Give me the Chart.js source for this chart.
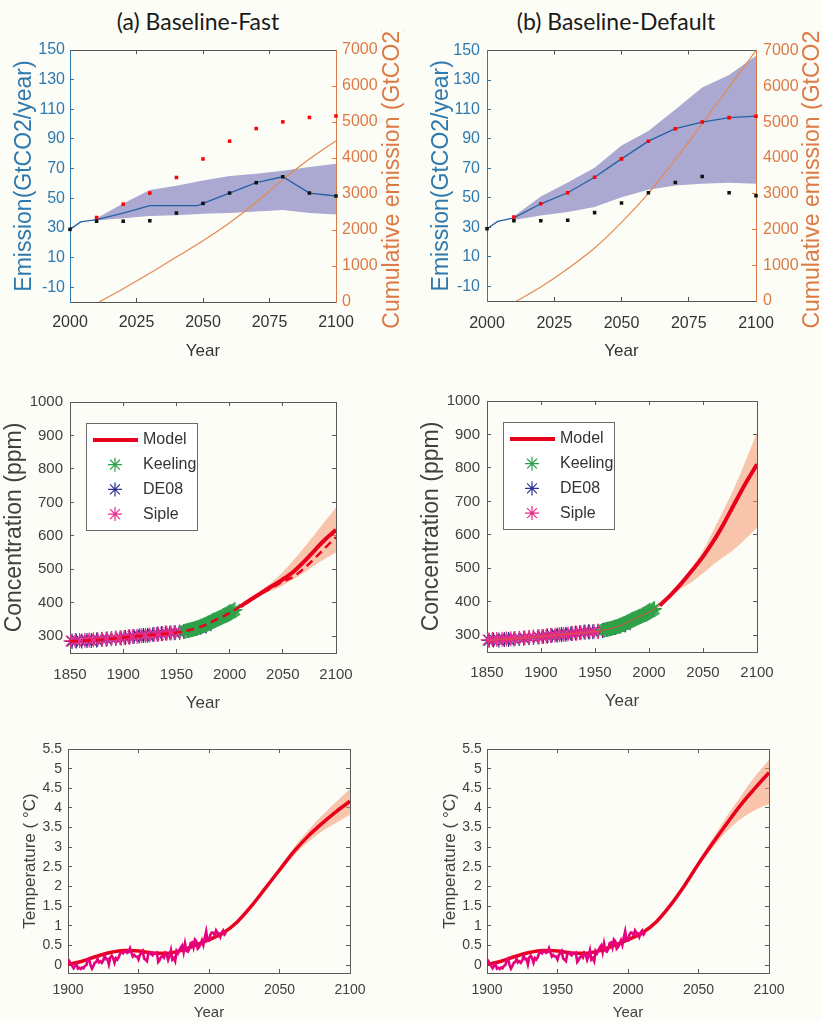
<!DOCTYPE html>
<html>
<head>
<meta charset="utf-8">
<script src="https://cdn.jsdelivr.net/npm/chart.js@4.4.1/dist/chart.umd.min.js"></script>
<style>
html, body { margin: 0; padding: 0; overflow: hidden; }
body { width: 822px; height: 1022px; position: relative; background: #fdfdf8; }
canvas { position: absolute; }
.ttl { position: absolute; top: 7px; font-family: Lato, 'Open Sans', sans-serif; font-size: 23px; color: #1a1a1a; text-align: center; white-space: nowrap; }
</style>
</head>
<body>
<div class="ttl" style="left:88px;width:220px;">(a) Baseline-Fast</div>
<div class="ttl" style="left:496px;width:240px;">(b) Baseline-Default</div>
<canvas id="emA" width="410" height="340" style="left:0;top:30px"></canvas>
<canvas id="emB" width="420" height="340" style="left:410px;top:30px"></canvas>
<canvas id="concA" width="410" height="340" style="left:0;top:380px"></canvas>
<canvas id="concB" width="420" height="340" style="left:410px;top:380px"></canvas>
<canvas id="tempA" width="410" height="300" style="left:0;top:730px"></canvas>
<canvas id="tempB" width="420" height="300" style="left:410px;top:730px"></canvas>
<script>
// emissions (GtCO2/year)
const emDotYears = [2000, 2010, 2020, 2030, 2040, 2050, 2060, 2070, 2080, 2090, 2100];
const emBlack = [29, 34.5, 34.5, 34.8, 40, 46.5, 53.5, 60.5, 64.5, 53.5, 51.5];
const emRedYears = [2010, 2020, 2030, 2040, 2050, 2060, 2070, 2080, 2090, 2100];
const emRed = [37, 46, 53.5, 64, 76.5, 88.5, 97, 101.5, 104.5, 105.5];
const fastLineYears = [2000, 2004, 2010, 2020, 2030, 2048, 2050, 2060, 2070, 2080, 2090, 2100];
const fastLine = [29, 34, 35.5, 40, 45, 45, 46.5, 53.5, 60.5, 64.5, 53.5, 51.5];
const defLineYears = [2000, 2004, 2010, 2020, 2030, 2040, 2050, 2060, 2070, 2080, 2090, 2100];
const defLine = [29, 34, 36.5, 46, 53.5, 64, 76.5, 88.5, 97, 101.5, 104.5, 105.5];
const emBandYears = [2010, 2020, 2030, 2040, 2050, 2060, 2070, 2080, 2090, 2100];
const fastUp = [36.5, 46.5, 55.5, 58.5, 62, 65, 66.5, 68.5, 71, 73.3];
const fastLo = [35, 36.5, 38, 38.5, 39.5, 40, 41, 42, 40, 39];
const defUp = [37.5, 51, 60.5, 70.5, 85.5, 95.5, 110, 125, 133.5, 146.5];
const defLo = [35, 38, 40.5, 43.8, 50.5, 55.5, 58.4, 59.6, 60.3, 59.6];
const cumYears = [2011, 2020, 2030, 2040, 2050, 2060, 2070, 2080, 2090, 2100];
const cumFast = [0, 370, 800, 1250, 1700, 2200, 2770, 3400, 3970, 4480];
const cumDef = [0, 390, 900, 1480, 2200, 3010, 3950, 4960, 5980, 7000];
const emTicksX = [2000, 2025, 2050, 2075, 2100];
const emTicksY = [-10, 10, 30, 50, 70, 90, 110, 130, 150];
const cumTicks = [0, 1000, 2000, 3000, 4000, 5000, 6000, 7000];

// concentration (ppm)
const concHistYears = [1850, 1875, 1900, 1925, 1950, 1960, 1970, 1980, 1990, 2000, 2010];
const concHist = [285, 289, 296, 304, 311, 317, 325, 338, 354, 369, 389];
const concFutYears = [2010, 2020, 2030, 2040, 2050, 2060, 2070, 2080, 2090, 2100];
const concFast = [389, 410, 430, 450, 470, 493, 523, 557, 590, 618];
const concFastDash = [389, 408, 428, 445, 463, 478, 503, 533, 565, 596];
const concFastUp = [389, 412, 438, 462, 492, 527, 565, 605, 645, 685];
const concFastLo = [389, 408, 425, 437, 452, 470, 490, 512, 532, 550];
const concDef = [389, 420, 455, 494, 535, 583, 638, 698, 757, 811];
const concDefUp = [389, 421, 460, 505, 553, 616, 680, 748, 826, 906];
const concDefLo = [389, 418, 440, 460, 485, 512, 536, 560, 590, 622];
const keelingYears = [1958, 1959, 1960, 1961, 1962, 1963, 1964, 1965, 1966, 1967, 1968, 1969, 1970, 1971, 1972, 1973,
  1974, 1975, 1976, 1977, 1978, 1979, 1980, 1981, 1982, 1983, 1984, 1985, 1986, 1987, 1988, 1989, 1990, 1991, 1992,
  1993, 1994, 1995, 1996, 1997, 1998, 1999, 2000, 2001, 2002, 2003, 2004, 2005];
const keeling = [315.3, 316, 316.9, 317.6, 318.5, 319, 319.6, 320, 321.4, 322.2, 323, 324.6, 325.7, 326.3, 327.5, 329.7,
  330.2, 331.1, 332.1, 333.8, 335.4, 336.8, 338.7, 340.1, 341.4, 343, 344.6, 346, 347.4, 349.2, 351.6, 353.1, 354.4,
  355.6, 356.4, 357.1, 358.8, 360.8, 362.6, 363.7, 366.7, 368.4, 369.6, 371.1, 373.2, 375.8, 377.5, 379.8];
const de08Years = [1852, 1856, 1861, 1866, 1870, 1875, 1880, 1884, 1889, 1893, 1898, 1902, 1906, 1910, 1915, 1919, 1923,
  1928, 1932, 1936, 1940, 1944, 1948, 1953, 1957, 1961, 1965, 1969, 1973, 1978];
const de08 = [285, 285.5, 286, 287, 287.5, 288.5, 290, 291, 292.5, 293.5, 295, 296.5, 297.5, 299, 300.5, 302, 303, 305,
  306.5, 308, 310, 310.5, 310.5, 311.5, 314, 317, 320, 323.5, 327, 331];
const sipleYears = [1851, 1855, 1859, 1864, 1868, 1872, 1876, 1880, 1885, 1889, 1893, 1897, 1901, 1905, 1909, 1913, 1917,
  1921, 1925, 1929, 1933, 1937, 1941, 1945, 1949, 1953];
const siple = [286, 287, 287, 288, 289, 289.5, 290.5, 291, 292.5, 293.5, 294.5, 295.5, 296.5, 297.5, 299, 300, 301.5,
  302.5, 303.5, 305, 306, 307.5, 309, 310, 311, 312.5];
const concTicksX = [1850, 1900, 1950, 2000, 2050, 2100];
const concTicksY = [300, 400, 500, 600, 700, 800, 900, 1000];
const legendLabels = ['Model', 'Keeling', 'DE08', 'Siple'];

// temperature (deg C)
const tempYears = [1900, 1910, 1920, 1930, 1940, 1950, 1960, 1970, 1980, 1990, 2000, 2010, 2020, 2030, 2040, 2050,
  2060, 2070, 2080, 2090, 2100];
const tempFast = [0.02, 0.1, 0.22, 0.32, 0.37, 0.36, 0.31, 0.3, 0.37, 0.5, 0.65, 0.82, 1.1, 1.5, 1.96, 2.42, 2.88,
  3.27, 3.6, 3.9, 4.17];
const tempDef = [0.02, 0.1, 0.22, 0.32, 0.37, 0.36, 0.31, 0.3, 0.37, 0.5, 0.65, 0.82, 1.1, 1.52, 2.02, 2.58, 3.1,
  3.6, 4.08, 4.5, 4.9];
const tBandYears = [2030, 2040, 2050, 2060, 2070, 2080, 2090, 2100];
const fastTUp = [1.5, 1.99, 2.48, 2.98, 3.42, 3.8, 4.15, 4.48];
const fastTLo = [1.5, 1.93, 2.36, 2.78, 3.12, 3.4, 3.62, 3.83];
const defTUp = [1.52, 2.05, 2.65, 3.22, 3.78, 4.3, 4.8, 5.22];
const defTLo = [1.52, 1.99, 2.51, 2.98, 3.4, 3.72, 3.94, 4.1];
const obsStart = 1900;
const obsTemp = [0.15, 0.10, 0.02, -0.02, -0.08, -0.02, 0.03, -0.09, -0.07, -0.10,
  -0.06, -0.08, -0.02, 0.00, 0.12, 0.16, 0.00, -0.09, -0.02, 0.06,
  0.08, 0.16, 0.07, 0.10, 0.06, 0.12, 0.24, 0.15, 0.16, 0.02,
  0.20, 0.24, 0.18, 0.06, 0.18, 0.14, 0.20, 0.30, 0.33, 0.30,
  0.36, 0.34, 0.31, 0.33, 0.43, 0.32, 0.22, 0.26, 0.22, 0.22,
  0.14, 0.26, 0.31, 0.36, 0.17, 0.14, 0.10, 0.30, 0.33, 0.28,
  0.25, 0.31, 0.30, 0.32, 0.08, 0.13, 0.21, 0.23, 0.19, 0.31,
  0.26, 0.13, 0.23, 0.38, 0.14, 0.18, 0.10, 0.36, 0.30, 0.38,
  0.45, 0.50, 0.33, 0.55, 0.36, 0.34, 0.41, 0.56, 0.58, 0.45,
  0.65, 0.61, 0.42, 0.46, 0.53, 0.63, 0.51, 0.70, 0.86, 0.62,
  0.62, 0.78, 0.83, 0.82, 0.76, 0.88, 0.82, 0.81, 0.72, 0.83,
  0.88, 0.78, 0.82];
const tempTicksX = [1900, 1950, 2000, 2050, 2100];
const tempTicksY = [0, 0.5, 1, 1.5, 2, 2.5, 3, 3.5, 4, 4.5, 5, 5.5];

const FONT = "'Liberation Sans', Arial, sans-serif";
const RED = '#e8001c';
const BAND = 'rgba(246,150,110,0.55)';
const STAR = { Keeling: '#2fa14a', DE08: '#2e3192', Siple: '#ec2a8a' };
Chart.defaults.font.family = FONT;

const pts = (xs, ys) => xs.map((x, i) => ({ x, y: ys[i] }));

function axis(o) {
  const vertical = o.pos === 'left' || o.pos === 'right';
  return {
    type: 'linear', position: o.pos, min: o.min, max: o.max,
    afterBuildTicks: s => { s.ticks = o.ticks.map(v => ({ value: v })); },
    afterFit: s => { if (vertical) s.width = o.size; else s.height = o.size; },
    border: { display: true, color: o.line, width: 1 },
    grid: { drawOnChartArea: false, drawTicks: true, tickLength: -4, color: o.line, tickColor: o.line },
    ticks: { display: !!o.font, padding: o.pad || 0, color: o.color, font: { size: o.font || 12 },
      maxRotation: 0, autoSkip: false, callback: v => String(v) },
    title: o.title ? { display: true, text: o.title, color: o.color, font: { size: o.tSize },
      padding: { top: o.tPad, bottom: o.tPad } } : { display: false }
  };
}

function options(top, scales, extra) {
  return {
    responsive: false, animation: false, events: [],
    layout: { padding: { top, left: 0, right: 0, bottom: 0 } },
    plugins: Object.assign({ legend: { display: false }, tooltip: { enabled: false } }, extra || {}),
    scales
  };
}

function drawStar(ctx, x, y, r, color) {
  ctx.strokeStyle = color;
  ctx.lineWidth = 1.2;
  ctx.beginPath();
  for (let k = 0; k < 4; k++) {
    const a = k * Math.PI / 4;
    ctx.moveTo(x - r * Math.cos(a), y - r * Math.sin(a));
    ctx.lineTo(x + r * Math.cos(a), y + r * Math.sin(a));
  }
  ctx.stroke();
}

const insetLegend = {
  id: 'insetLegend',
  afterDraw(chart) {
    const { ctx, chartArea } = chart;
    const x0 = Math.round(chartArea.left) + 16, y0 = Math.round(chartArea.top) + 21;
    ctx.save();
    ctx.fillStyle = '#ffffff';
    ctx.fillRect(x0, y0, 111, 107);
    ctx.strokeStyle = '#6a6a6a';
    ctx.lineWidth = 1;
    ctx.strokeRect(x0 + 0.5, y0 + 0.5, 111, 107);
    ctx.font = '16px ' + FONT;
    ctx.textBaseline = 'middle';
    legendLabels.forEach((label, i) => {
      const y = y0 + 17 + i * 24.7;
      if (i === 0) {
        ctx.strokeStyle = RED;
        ctx.lineWidth = 4;
        ctx.beginPath(); ctx.moveTo(x0 + 7, y); ctx.lineTo(x0 + 52, y); ctx.stroke();
      } else {
        drawStar(ctx, x0 + 29, y, 7, STAR[label]);
      }
      ctx.fillStyle = '#333';
      ctx.fillText(label, x0 + 57, y);
    });
    ctx.restore();
  }
};

// right axis title reads bottom-to-top like the left one
const rightTitle = {
  id: 'rightTitle',
  afterDraw(chart, args, opts) {
    const { ctx, chartArea } = chart;
    const s = chart.scales.y2;
    ctx.save();
    ctx.translate(s.right - 17, (chartArea.top + chartArea.bottom) / 2);
    ctx.rotate(-Math.PI / 2);
    ctx.font = '23px ' + FONT;
    ctx.fillStyle = opts.color;
    ctx.textAlign = 'center';
    ctx.textBaseline = 'middle';
    ctx.fillText(opts.text, 0, 0);
    ctx.restore();
  }
};

function emissionChart(id, d) {
  const blue = '#2f79ad', orange = '#dc7a45', gray = '#555';
  new Chart(document.getElementById(id), {
    type: 'line',
    data: { datasets: [
      { data: pts(emRedYears, emRed), showLine: false, pointStyle: 'rect', pointRadius: 2.5,
        pointBackgroundColor: '#ff0000', pointBorderWidth: 0, clip: 6 },
      { data: pts(emDotYears, emBlack), showLine: false, pointStyle: 'rect', pointRadius: 2.5,
        pointBackgroundColor: '#111', pointBorderWidth: 0, clip: 6 },
      { data: pts(d.lineYears, d.line), borderColor: '#2361a3', borderWidth: 1.3, pointRadius: 0 },
      { data: pts(cumYears, d.cum), yAxisID: 'y2', borderColor: '#e4884f', borderWidth: 1.2, pointRadius: 0,
        cubicInterpolationMode: 'monotone' },
      { data: pts(emBandYears, d.up), fill: '+1', backgroundColor: '#aba9d1', borderWidth: 0, pointRadius: 0 },
      { data: pts(emBandYears, d.lo), borderWidth: 0, pointRadius: 0 }
    ] },
    plugins: [rightTitle],
    options: options(d.top, {
      x: axis({ pos: 'bottom', min: 2000, max: 2100, ticks: emTicksX, size: d.bottom, line: gray, color: '#333',
        font: 16, pad: d.xPad, title: 'Year', tSize: 17, tPad: 8.1 }),
      x2: axis({ pos: 'top', min: 2000, max: 2100, ticks: emTicksX, size: 0, line: gray }),
      y: axis({ pos: 'left', min: -20, max: 150, ticks: emTicksY, size: d.left, line: blue, color: blue,
        font: 16, pad: d.yPad, title: 'Emission(GtCO2/year)', tSize: 23, tPad: d.tPad }),
      y2: axis({ pos: 'right', min: 0, max: 7000, ticks: cumTicks, size: d.right, line: orange, color: orange,
        font: 16, pad: d.y2Pad })
    }, { rightTitle: { text: 'Cumulative emission (GtCO2)', color: orange } })
  });
}

function starSet(years, vals, color) {
  return { data: pts(years, vals), showLine: false, pointStyle: 'star', pointRadius: 7.5,
    pointBorderColor: color, pointBorderWidth: 1.2, clip: 9 };
}

function concChart(id, d) {
  const gray = '#5a5a5a';
  const sets = [{ data: pts(concFutYears, d.model), borderColor: RED, borderWidth: 4, pointRadius: 0,
    cubicInterpolationMode: 'monotone' }];
  if (d.dash) {
    sets.push({ data: pts(concFutYears, d.dash), borderColor: RED, borderWidth: 2.5, borderDash: [8, 5],
      pointRadius: 0, cubicInterpolationMode: 'monotone' });
    sets.push({ data: pts(concHistYears, concHist), borderColor: RED, borderWidth: 2.5, borderDash: [8, 5],
      pointRadius: 0, cubicInterpolationMode: 'monotone' });
  } else {
    sets.push({ data: pts(concHistYears, concHist), borderColor: '#d8553a', borderWidth: 1, pointRadius: 0,
      cubicInterpolationMode: 'monotone' });
  }
  sets.push(starSet(keelingYears, keeling, STAR.Keeling));
  sets.push(starSet(sipleYears, siple, STAR.Siple));
  sets.push(starSet(de08Years, de08, STAR.DE08));
  sets.push({ data: pts(concFutYears, d.up), fill: '+1', backgroundColor: BAND, borderWidth: 0, pointRadius: 0,
    cubicInterpolationMode: 'monotone' });
  sets.push({ data: pts(concFutYears, d.lo), borderWidth: 0, pointRadius: 0, cubicInterpolationMode: 'monotone' });
  new Chart(document.getElementById(id), {
    type: 'line',
    data: { datasets: sets },
    plugins: [insetLegend],
    options: options(d.top, {
      x: axis({ pos: 'bottom', min: 1850, max: 2100, ticks: concTicksX, size: d.bottom, line: gray, color: '#404040',
        font: 15, pad: d.xPad, title: 'Year', tSize: 17, tPad: d.xtPad }),
      x2: axis({ pos: 'top', min: 1850, max: 2100, ticks: concTicksX, size: 0, line: gray }),
      y: axis({ pos: 'left', min: 250, max: 1000, ticks: concTicksY, size: d.left, line: gray, color: '#404040',
        font: 15, pad: 11, title: 'Concentration (ppm)', tSize: 23, tPad: d.tPad }),
      y2: axis({ pos: 'right', min: 250, max: 1000, ticks: concTicksY, size: d.right, line: gray })
    })
  });
}

function tempChart(id, d) {
  const gray = '#5a5a5a';
  new Chart(document.getElementById(id), {
    type: 'line',
    data: { datasets: [
      { data: obsTemp.map((v, i) => ({ x: obsStart + i, y: v })), borderColor: '#e6007e', borderWidth: 2.6,
        pointRadius: 0 },
      { data: pts(tempYears, d.model), borderColor: RED, borderWidth: 3.5, pointRadius: 0,
        cubicInterpolationMode: 'monotone' },
      { data: pts(tBandYears, d.up), fill: '+1', backgroundColor: BAND, borderWidth: 0, pointRadius: 0,
        cubicInterpolationMode: 'monotone' },
      { data: pts(tBandYears, d.lo), borderWidth: 0, pointRadius: 0, cubicInterpolationMode: 'monotone' }
    ] },
    options: options(19, {
      x: axis({ pos: 'bottom', min: 1900, max: 2100, ticks: tempTicksX, size: 57, line: gray, color: '#404040',
        font: 14, pad: 12.6, title: 'Year', tSize: 15, tPad: 8 }),
      x2: axis({ pos: 'top', min: 1900, max: 2100, ticks: tempTicksX, size: 0, line: gray }),
      y: axis({ pos: 'left', min: -0.2, max: 5.5, ticks: tempTicksY, size: d.left, line: gray, color: '#404040',
        font: 14, pad: d.yPad, title: 'Temperature ( °C)', tSize: 17, tPad: d.tPad }),
      y2: axis({ pos: 'right', min: -0.2, max: 5.5, ticks: tempTicksY, size: d.right, line: gray })
    })
  });
}

emissionChart('emA', { lineYears: fastLineYears, line: fastLine, up: fastUp, lo: fastLo, cum: cumFast,
  top: 20, bottom: 68, left: 70, right: 74, tPad: 11.2, yPad: 9, y2Pad: 10, xPad: 15.1 });
emissionChart('emB', { lineYears: defLineYears, line: defLine, up: defUp, lo: defLo, cum: cumDef,
  top: 19, bottom: 69, left: 77, right: 74, tPad: 17.9, yPad: 11, y2Pad: 11, xPad: 16.7 });
concChart('concA', { model: concFast, dash: concFastDash, up: concFastUp, lo: concFastLo,
  top: 22, bottom: 67, left: 70, right: 74, tPad: 1.2, xPad: 17, xtPad: 6.8 });
concChart('concB', { model: concDef, up: concDefUp, lo: concDefLo,
  top: 21, bottom: 68, left: 77, right: 73, tPad: 7.9, xPad: 16.3, xtPad: 8.1 });
tempChart('tempA', { model: tempFast, up: fastTUp, lo: fastTLo, left: 68, right: 60, tPad: 19.8, yPad: 10 });
tempChart('tempB', { model: tempDef, up: defTUp, lo: defTLo, left: 77, right: 61, tPad: 29.8, yPad: 9.3 });
</script>
</body>
</html>
